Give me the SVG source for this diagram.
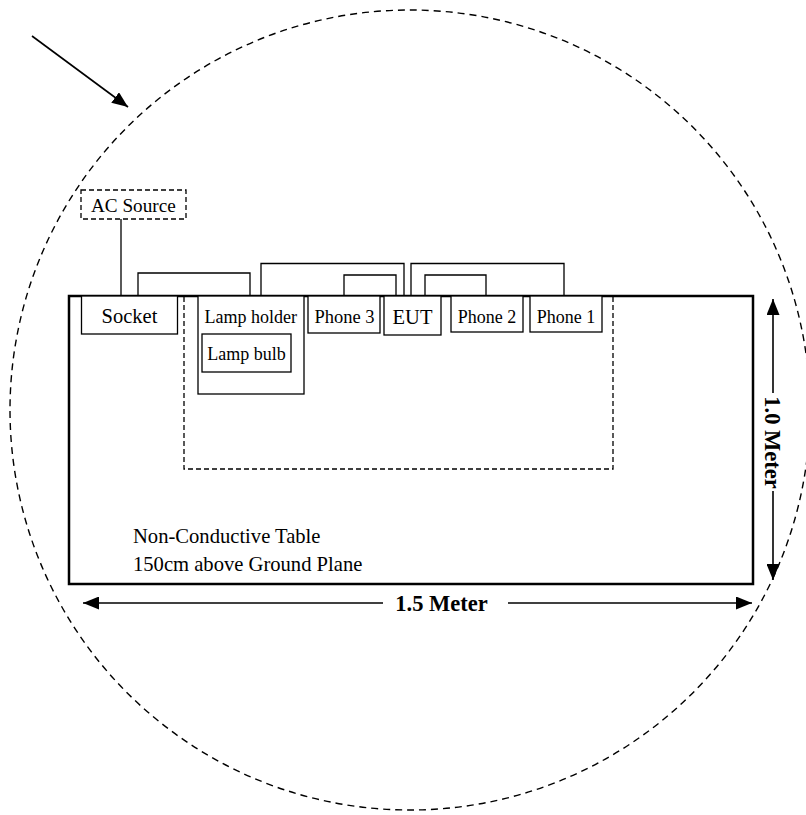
<svg xmlns="http://www.w3.org/2000/svg" width="806" height="815" viewBox="0 0 806 815">
<style>
  .box{fill:#fff;stroke:#000;stroke-width:1.3}
  .wire{fill:none;stroke:#000;stroke-width:1.3}
  .dash{fill:none;stroke:#000;stroke-width:1.3;stroke-dasharray:5 3}
  .t{font-family:"Liberation Serif","Times New Roman",serif;fill:#000}
  .b{font-family:"Liberation Serif","Times New Roman",serif;font-weight:bold;font-size:22.5px;fill:#000}
  .dim{fill:none;stroke:#000;stroke-width:1.6}
</style>
<defs>
  <marker id="ah" viewBox="0 0 16 13" refX="16" refY="6.5" markerWidth="16" markerHeight="13" markerUnits="userSpaceOnUse" orient="auto-start-reverse">
    <path d="M0,0 L16,6.5 L0,13 Z" fill="#000"/>
  </marker>
</defs>
<g id="zone">
  <circle cx="410" cy="410" r="400" fill="none" stroke="#000" stroke-width="1.4" stroke-dasharray="7 5"/>
</g>
<g id="pointer">
  <line x1="32" y1="36" x2="128" y2="107" stroke="#000" stroke-width="1.6" marker-end="url(#ah)"/>
</g>
<g id="table">
  <rect x="69" y="296" width="684" height="288" fill="none" stroke="#000" stroke-width="2.5"/>
  <text class="t" x="133" y="543" font-size="20.6">Non-Conductive Table</text>
  <text class="t" x="133" y="571" font-size="20.6">150cm above Ground Plane</text>
</g>
<g id="test-area">
  <path class="dash" d="M184,297 V469 H613 V297"/>
</g>
<g id="connectors">
  <path class="wire" d="M121,219 V296"/>
  <path class="wire" d="M138,296 V273 H250 V296"/>
  <path class="wire" d="M261,296 V263.5 H404 V296"/>
  <path class="wire" d="M344,296 V275 H396 V296"/>
  <path class="wire" d="M411,296 V263.5 H564 V296"/>
  <path class="wire" d="M425,296 V275 H486 V296"/>
</g>
<g id="ac-source">
  <rect class="dash" x="81" y="190" width="105" height="29"/>
  <text class="t" x="91" y="212" font-size="19.2">AC Source</text>
</g>
<g id="socket">
  <rect class="box" x="81.5" y="296" width="96" height="38"/>
  <text class="t" x="129.5" y="323" font-size="20.5" text-anchor="middle">Socket</text>
</g>
<g id="lamp-holder">
  <rect class="box" x="198" y="296" width="106" height="98"/>
  <text class="t" x="204.5" y="323" font-size="18">Lamp holder</text>
</g>
<g id="lamp-bulb">
  <rect class="box" x="202" y="334" width="89" height="38"/>
  <text class="t" x="246.5" y="360" font-size="18" text-anchor="middle">Lamp bulb</text>
</g>
<g id="phone3">
  <rect class="box" x="308" y="296" width="72" height="37"/>
  <text class="t" x="344.5" y="323" font-size="18.5" text-anchor="middle">Phone 3</text>
</g>
<g id="eut">
  <rect class="box" x="384" y="296" width="57" height="39"/>
  <text class="t" x="412.5" y="323.5" font-size="20.5" text-anchor="middle">EUT</text>
</g>
<g id="phone2">
  <rect class="box" x="451" y="296" width="72" height="36"/>
  <text class="t" x="487" y="323" font-size="18" text-anchor="middle">Phone 2</text>
</g>
<g id="phone1">
  <rect class="box" x="530" y="296" width="72" height="36"/>
  <text class="t" x="566" y="323" font-size="18" text-anchor="middle">Phone 1</text>
</g>
<g id="dim-width">
  <line class="dim" x1="383" y1="603" x2="83" y2="603" marker-end="url(#ah)"/>
  <line class="dim" x1="508" y1="603" x2="752" y2="603" marker-end="url(#ah)"/>
  <text class="b" x="441.5" y="611" text-anchor="middle">1.5 Meter</text>
</g>
<g id="dim-height">
  <line class="dim" x1="773" y1="393" x2="773" y2="299" marker-end="url(#ah)"/>
  <line class="dim" x1="773" y1="491" x2="773" y2="580" marker-end="url(#ah)"/>
  <text class="b" transform="translate(765,442.5) rotate(90)" text-anchor="middle">1.0 Meter</text>
</g>
</svg>
